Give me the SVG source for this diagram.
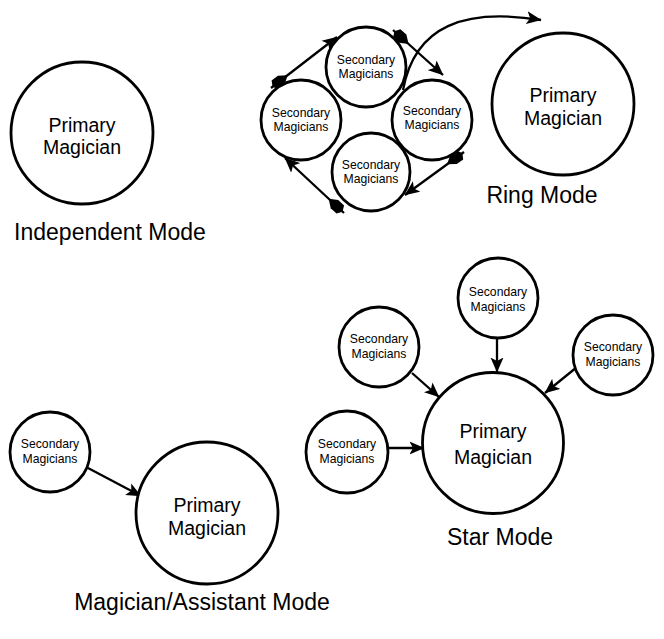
<svg xmlns="http://www.w3.org/2000/svg" width="664" height="639" viewBox="0 0 664 639">
<style>
.c{fill:#fff;stroke:#000;stroke-width:2.8}
.big{font-family:"Liberation Sans",Arial,sans-serif;font-size:19.5px;fill:#000;text-anchor:middle}
.sm{font-family:"Liberation Sans",Arial,sans-serif;font-size:12.2px;fill:#000;text-anchor:middle}
.lbl{font-family:"Liberation Sans",Arial,sans-serif;font-size:23px;fill:#000;text-anchor:middle}
.ln{fill:none;stroke:#000;stroke-width:2.3;marker-end:url(#ah)}
.rg{marker-start:url(#tail)}
</style>
<defs>
<marker id="ah" markerUnits="userSpaceOnUse" markerWidth="16" markerHeight="14" viewBox="0 0 16 14" refX="14.5" refY="7" orient="auto">
<path d="M0,0.5 L15,7 L0,13.5 L3.5,7 z" fill="#000"/>
</marker>
<marker id="tail" markerUnits="userSpaceOnUse" markerWidth="24" markerHeight="14" viewBox="0 0 24 14" refX="-2" refY="7" orient="auto">
<path d="M0,7 L3,1.5 L11,1.5 L19,7 L11,12.5 L3,12.5 z" fill="#000"/>
</marker>
</defs>
<rect width="664" height="639" fill="#fff"/>

<g id="connectors">
<path class="ln rg" d="M271,88 L337,37"/>
<path class="ln rg" d="M393,30 L443,75"/>
<path class="ln rg" d="M464,152 L405,195"/>
<path class="ln rg" d="M344,213 L285,158"/>
<path class="ln" d="M403,90 C415,25 465,8 541,20"/>
<path class="ln" d="M497,339 L497,372"/>
<path class="ln" d="M412,373 L439,397"/>
<path class="ln" d="M577,367 L545,393"/>
<path class="ln" d="M388,448 L424,448"/>
<path class="ln" d="M88,468 L141,496"/>
</g>

<g id="independent-primary">
<circle class="c" cx="82" cy="133" r="71"/>
<text class="big" x="82" y="132">Primary</text>
<text class="big" x="82" y="154">Magician</text>
</g>
<text class="lbl" x="110" y="240">Independent Mode</text>

<g id="ring-top">
<circle class="c" cx="366" cy="67" r="40"/>
<text class="sm" x="366" y="64">Secondary</text>
<text class="sm" x="366" y="78">Magicians</text>
</g>
<g id="ring-left">
<circle class="c" cx="301" cy="120" r="40"/>
<text class="sm" x="301" y="117">Secondary</text>
<text class="sm" x="301" y="131">Magicians</text>
</g>
<g id="ring-right">
<circle class="c" cx="432" cy="120" r="40"/>
<text class="sm" x="432" y="115">Secondary</text>
<text class="sm" x="432" y="129">Magicians</text>
</g>
<g id="ring-bottom">
<circle class="c" cx="371" cy="172" r="39"/>
<text class="sm" x="371" y="169">Secondary</text>
<text class="sm" x="371" y="183">Magicians</text>
</g>
<g id="ring-primary">
<circle class="c" cx="563" cy="104" r="71"/>
<text class="big" x="563" y="102">Primary</text>
<text class="big" x="563" y="125">Magician</text>
</g>
<text class="lbl" x="542" y="203">Ring Mode</text>

<g id="star-top">
<circle class="c" cx="498" cy="298" r="40"/>
<text class="sm" x="498" y="296">Secondary</text>
<text class="sm" x="498" y="311">Magicians</text>
</g>
<g id="star-upper-left">
<circle class="c" cx="379" cy="347" r="40"/>
<text class="sm" x="379" y="343">Secondary</text>
<text class="sm" x="379" y="358">Magicians</text>
</g>
<g id="star-upper-right">
<circle class="c" cx="613" cy="355" r="40"/>
<text class="sm" x="613" y="351">Secondary</text>
<text class="sm" x="613" y="366">Magicians</text>
</g>
<g id="star-left">
<circle class="c" cx="347" cy="452" r="41"/>
<text class="sm" x="347" y="448">Secondary</text>
<text class="sm" x="347" y="463">Magicians</text>
</g>
<g id="star-primary">
<circle class="c" cx="493" cy="443" r="70.5"/>
<text class="big" x="493" y="438">Primary</text>
<text class="big" x="493" y="464">Magician</text>
</g>
<text class="lbl" x="500" y="545">Star Mode</text>

<g id="assistant-secondary">
<circle class="c" cx="50" cy="452" r="40"/>
<text class="sm" x="50" y="448">Secondary</text>
<text class="sm" x="50" y="463">Magicians</text>
</g>
<g id="assistant-primary">
<circle class="c" cx="207" cy="513" r="71"/>
<text class="big" x="207" y="512">Primary</text>
<text class="big" x="207" y="535">Magician</text>
</g>
<text class="lbl" x="202" y="610">Magician/Assistant Mode</text>
</svg>
